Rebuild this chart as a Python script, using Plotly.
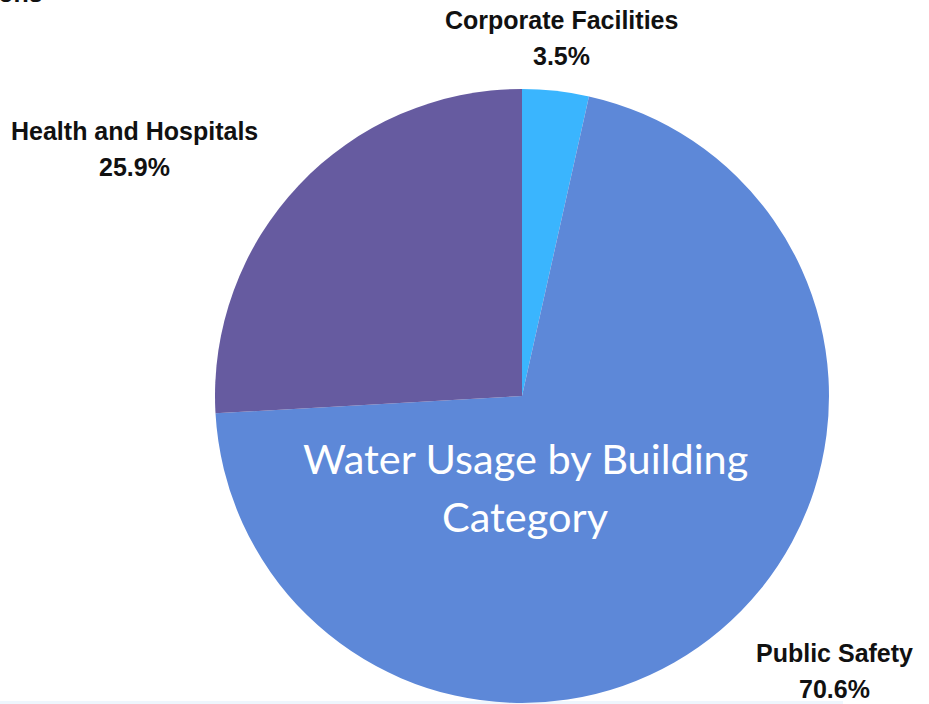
import plotly.graph_objects as go

# Share of water usage by building category (percent)
categories = ["Corporate Facilities", "Public Safety", "Health and Hospitals"]
shares = [3.5, 70.6, 25.9]
colors = ["#3AB5FE", "#5D88D8", "#665BA0"]

W, H = 929, 704

fig = go.Figure()
fig.add_trace(go.Pie(
    labels=categories,
    values=shares,
    sort=False,
    direction="clockwise",
    rotation=0,
    marker=dict(colors=colors, line=dict(width=0)),
    textinfo="none",
    hoverinfo="label+percent",
    showlegend=False,
    domain=dict(x=[215 / W, 829 / W], y=[1 / H, 615 / H]),
))

# Outside labels: category name with its share underneath
label_pos = {
    "Corporate Facilities": (561, 20),
    "Health and Hospitals": (134, 131),
    "Public Safety": (834, 653),
}
annotations = []
for name, val in zip(categories, shares):
    px, py = label_pos[name]
    for text, dy in ((name, 0), (f"{val:.1f}%", 36)):
        annotations.append(dict(
            x=px / W, y=1 - (py + dy) / H, xref="paper", yref="paper",
            text=f"<b>{text}</b>", showarrow=False,
            xanchor="center", yanchor="middle",
            font=dict(family="Liberation Sans, Arial", size=25, color="#111111"),
        ))

# Chart title placed inside the pie
for text, cy in (("Water Usage by Building", 458), ("Category", 516)):
    annotations.append(dict(
        x=525 / W, y=1 - cy / H, xref="paper", yref="paper",
        text=text, showarrow=False, xanchor="center", yanchor="middle",
        font=dict(family="Lato, Open Sans", size=41.5, color="#FFFFFF"),
    ))

# Page heading running off the top edge
annotations.append(dict(
    x=45 / W, y=1 + 7 / H, xref="paper", yref="paper",
    text="<b>Water Usage in City Operations</b>", showarrow=False,
    xanchor="right", yanchor="middle",
    font=dict(family="Liberation Sans, Arial", size=25, color="#111111"),
))

fig.update_layout(
    width=W, height=H,
    margin=dict(l=0, r=0, t=0, b=0),
    paper_bgcolor="#FFFFFF",
    plot_bgcolor="#FFFFFF",
    annotations=annotations,
    shapes=[dict(type="rect", xref="paper", yref="paper",
                 x0=0, x1=843 / W, y0=0, y1=3 / H,
                 fillcolor="#EEF6FD", line=dict(width=0), layer="below")],
)

fig.write_html("out.html")
